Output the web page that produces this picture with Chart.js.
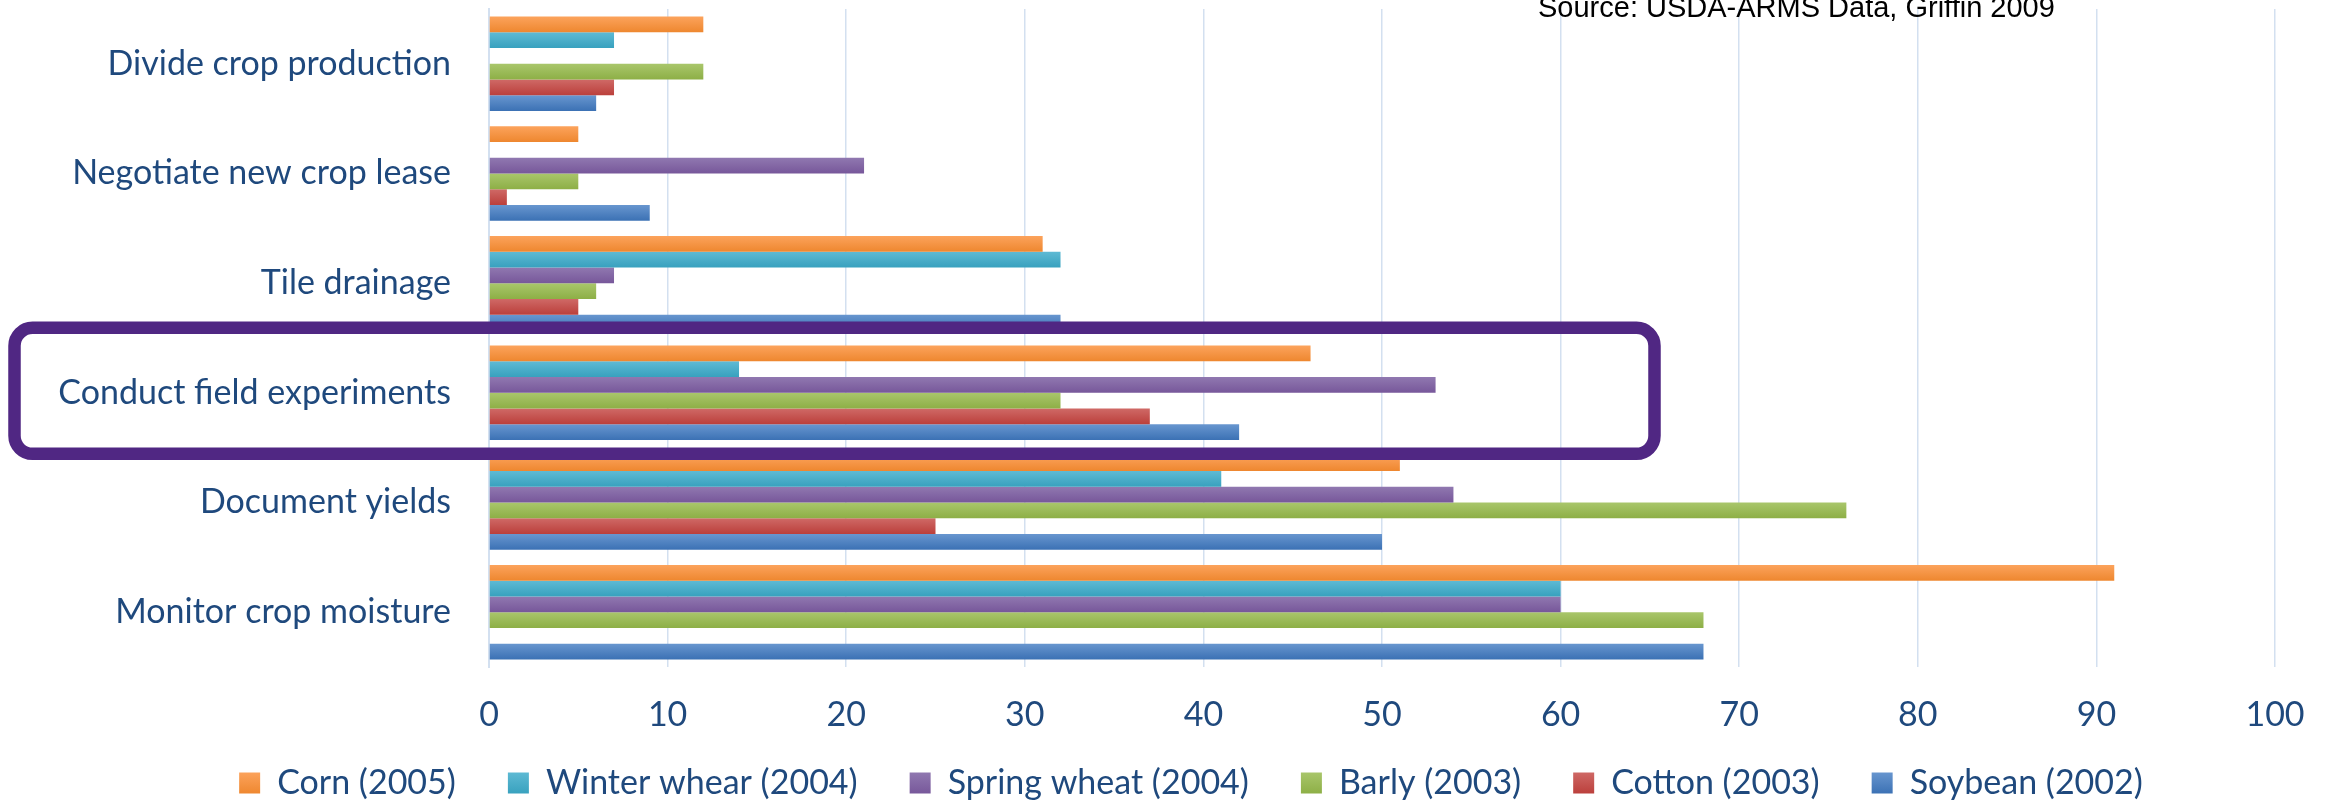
<!DOCTYPE html>
<html lang="en">
<head>
  <meta charset="UTF-8">
  <title>Farm data uses by crop</title>
  <script src="https://cdn.jsdelivr.net/npm/chart.js"></script>
  <style>
    html, body { margin: 0; padding: 0; background: #fff; }
    #wrap { width: 2330px; height: 804px; }
  </style>
</head>
<body>
  <div id="wrap"><canvas id="chart" width="2330" height="804"></canvas></div>
  <script type="text/javascript">
    // categories top to bottom as they appear
    const categories = [
      'Divide crop production',
      'Negotiate new crop lease',
      'Tile drainage',
      'Conduct field experiments',
      'Document yields',
      'Monitor crop moisture'
    ];
    const seriesNames = ['Corn (2005)', 'Winter whear (2004)', 'Spring wheat (2004)', 'Barly (2003)', 'Cotton (2003)', 'Soybean (2002)'];
    const corn = [12, 5, 31, 46, 51, 91];
    const winterWheat = [7, 0, 32, 14, 41, 60];
    const springWheat = [0, 21, 7, 53, 54, 60];
    const barley = [12, 5, 6, 32, 76, 68];
    const cotton = [7, 1, 5, 37, 25, 0];
    const soybean = [6, 9, 32, 42, 50, 68];
    const xTicks = [0, 10, 20, 30, 40, 50, 60, 70, 80, 90, 100];
    const highlighted = 'Conduct field experiments';
    const sourceNote = 'Source: USDA-ARMS Data, Griffin 2009';

    const values = [corn, winterWheat, springWheat, barley, cotton, soybean];
    const flat = ['#F79646', '#4BACC6', '#8064A2', '#9BBB59', '#C0504D', '#4F81BD'];
    const tops = ['#FCA35C', '#5EBAD4', '#9078B0', '#A9C66B', '#CF6966', '#6896CF'];
    const bottoms = ['#EE872F', '#38A1BE', '#77579A', '#8DAF46', '#BB3F3B', '#3B71B4'];

    const textBlue = '#1F497D';
    const gridBlue = '#D3E0F0';
    const labelFont = { family: 'Lato', size: 34 };

    // Excel style top-to-bottom shading on each bar and legend box
    const gradientBars = {
      id: 'gradientBars',
      afterLayout(chart) {
        // scales clip their labels to their own box; let the labels run free
        chart.scales.y.left = 0;
        chart.scales.x.bottom = chart.height;
      },
      beforeDatasetsDraw(chart) {
        const ctx = chart.ctx;
        chart.data.datasets.forEach((ds, i) => {
          chart.getDatasetMeta(i).data.forEach(bar => {
            const h = bar.height;
            const g = ctx.createLinearGradient(0, bar.y - h / 2, 0, bar.y + h / 2);
            g.addColorStop(0, tops[i]);
            g.addColorStop(1, bottoms[i]);
            bar.options = Object.assign({}, bar.options, { backgroundColor: g });
          });
        });
      },
      beforeDraw(chart) {
        const lg = chart.legend;
        if (!lg || !lg.legendItems) return;
        const top = lg.top + lg.options.labels.padding + 6;
        lg.legendItems.forEach((it, i) => {
          const grad = chart.ctx.createLinearGradient(0, top, 0, top + 22);
          grad.addColorStop(0, tops[i]);
          grad.addColorStop(1, bottoms[i]);
          it.fillStyle = grad;
        });
      }
    };

    // rounded box round the highlighted row, plus the source note
    const overlay = {
      id: 'overlay',
      afterDraw(chart) {
        const ctx = chart.ctx;
        const cy = chart.scales.y.getPixelForValue(categories.indexOf(highlighted));
        ctx.save();
        ctx.strokeStyle = '#502783';
        ctx.lineWidth = 12.5;
        ctx.beginPath();
        ctx.roundRect(14.5, cy - 65, 1640, 126, 18);
        ctx.stroke();
        ctx.fillStyle = '#000';
        ctx.font = '29px "Liberation Sans", Arial, sans-serif';
        ctx.textBaseline = 'alphabetic';
        ctx.textAlign = 'left';
        ctx.fillText(sourceNote, 1538, 17);
        ctx.restore();
      }
    };

    const datasets = seriesNames.map((name, i) => ({
      label: name,
      data: values[i],
      backgroundColor: flat[i],
      borderWidth: 0,
      barPercentage: 1,
      categoryPercentage: 0.862
    }));

    new Chart(document.getElementById('chart'), {
      type: 'bar',
      data: { labels: categories, datasets },
      plugins: [gradientBars, overlay],
      options: {
        indexAxis: 'y',
        responsive: false,
        animation: false,
        layout: { padding: { top: 9, left: 107, right: 55, bottom: -6 } },
        scales: {
          x: {
            min: 0,
            max: 100,
            afterBuildTicks: s => { s.ticks = xTicks.map(v => ({ value: v })); },
            afterFit: s => { s.height = 47; s.paddingLeft = 0; s.paddingRight = 0; },
            grid: { color: gridBlue, lineWidth: 1.5, drawTicks: false },
            border: { display: false },
            ticks: { color: textBlue, font: labelFont, padding: 28, maxRotation: 0 }
          },
          y: {
            afterFit: s => { s.width = 382; s.paddingTop = 0; s.paddingBottom = 0; },
            grid: { display: false, drawTicks: false },
            border: { color: gridBlue, width: 2 },
            ticks: { color: textBlue, font: labelFont, padding: 38 }
          }
        },
        plugins: {
          legend: {
            position: 'bottom',
            labels: {
              color: textBlue,
              font: labelFont,
              boxWidth: 21,
              boxHeight: 21,
              padding: 52
            }
          },
          tooltip: { enabled: false }
        }
      }
    });
  </script>
</body>
</html>
